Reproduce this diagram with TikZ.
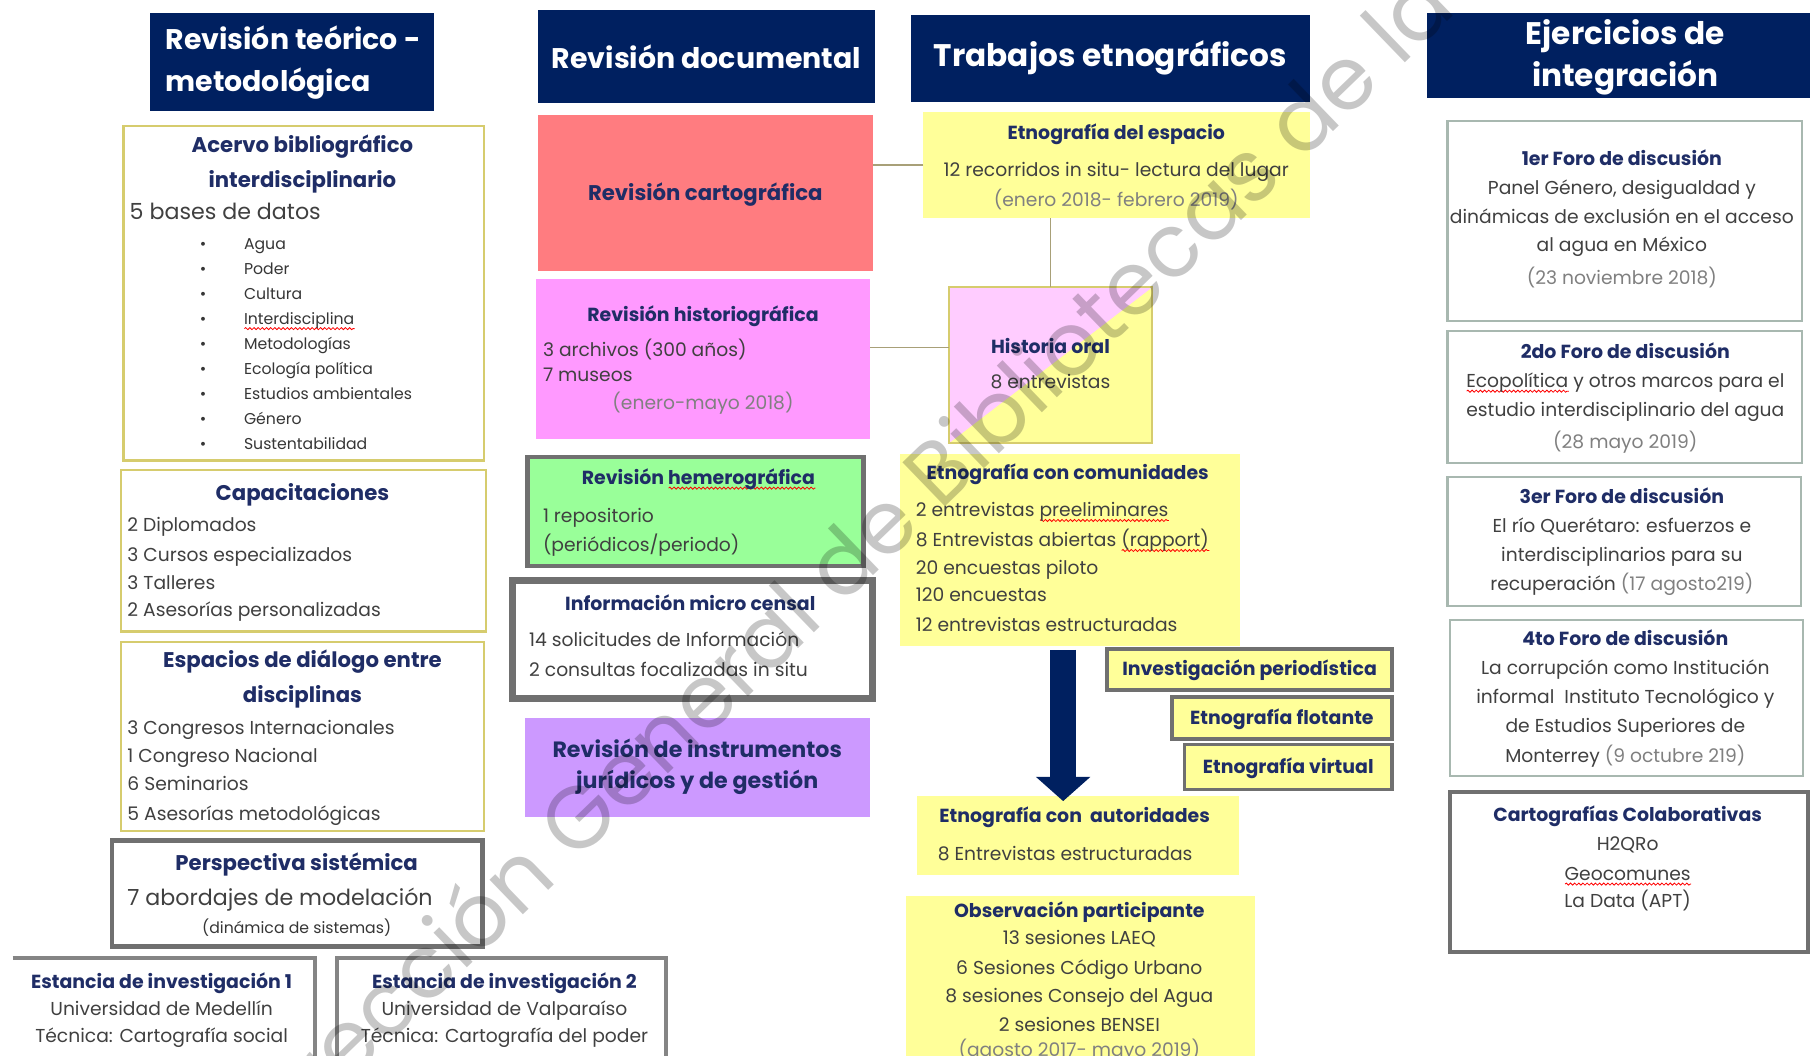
\documentclass[tikz,border=0pt]{standalone}
\usepackage{fontspec}
\setmainfont{Poppins}
\usetikzlibrary{arrows.meta,decorations.pathmorphing}

\definecolor{navy}{RGB}{0,32,96}
\definecolor{ttlblue}{RGB}{31,45,102}
\definecolor{bodygray}{RGB}{64,64,64}
\definecolor{dategray}{RGB}{128,128,128}
\definecolor{olivefr}{RGB}{214,204,110}
\definecolor{salmon}{RGB}{255,124,128}
\definecolor{pinkbox}{RGB}{255,153,255}
\definecolor{greenbox}{RGB}{153,255,153}
\definecolor{lavbox}{RGB}{204,153,255}
\definecolor{yelbox}{RGB}{255,255,153}
\definecolor{histpink}{RGB}{255,204,255}
\definecolor{frgray}{RGB}{112,112,112}
\definecolor{forogray}{RGB}{168,184,176}
\definecolor{connol}{RGB}{168,160,120}

% box from (x1,y1) to (x2,y2), y measured downwards
\newcommand\bx[6]{\node[#6,anchor=north west,inner sep=0pt,outer sep=0pt,
  minimum width={(#4-#2)*0.5pt},minimum height={(#5-#3)*0.5pt}] (#1) at (#2,#3) {};}
% spelling squiggle under a word
\newsavebox\sqbox
\newcommand\sq[1]{\sbox\sqbox{#1}\rlap{\tikz[baseline=0pt,x=1pt,y=1pt]\draw[red,line width=0.35pt,
  decorate,decoration={snake,amplitude=0.45pt,segment length=1.8pt}] (0,-1.7) -- (\wd\sqbox,-1.7);}\usebox\sqbox}

\begin{document}
\begin{tikzpicture}[x=0.5pt,y=-0.5pt,
  hdrbox/.style={fill=navy,draw=none},
  olbox/.style={draw=olivefr,line width=1pt,fill=white},
  forobox/.style={draw=forogray,line width=1pt,fill=white},
  grbox/.style={draw=frgray,line width=1.6pt},
  hd/.style={font=\bfseries\fontsize{12.3}{14}\selectfont,text=white,inner sep=0pt},
  hdl/.style={hd,font=\bfseries\fontsize{13.5}{15}\selectfont},
  tt/.style={font=\bfseries\fontsize{8.2}{9}\selectfont,text=ttlblue,anchor=mid,inner sep=0pt},
  ttb/.style={font=\bfseries\fontsize{9.2}{10}\selectfont,text=ttlblue,anchor=mid,inner sep=0pt},
  bd/.style={font=\fontsize{8.1}{9}\selectfont,text=bodygray,anchor=mid west,inner sep=0pt},
  bdc/.style={font=\fontsize{8.1}{9}\selectfont,text=bodygray,anchor=mid,inner sep=0pt},
  dt/.style={font=\fontsize{8.1}{9}\selectfont,text=dategray,anchor=mid,inner sep=0pt},
  big/.style={font=\fontsize{9.6}{11}\selectfont,text=bodygray,anchor=mid west,inner sep=0pt},
  sm/.style={font=\fontsize{6.8}{8}\selectfont,text=bodygray!85!black,inner sep=0pt},
  conn/.style={draw=connol,line width=0.8pt},
  stamp/.style={rotate=44,inner sep=0pt,text=black,text opacity=0.22,font=\fontsize{38}{42}\selectfont},
]
\useasboundingbox (0,0) rectangle (1568,914);
\clip (0,0) rectangle (1568,914);

% ---------- column 1: theory and method ----------
\bx{h1}{130}{11}{376}{96}{hdrbox}
\node[hd,anchor=mid west] (h1a) at (143,37) {Revisión teórico -};
\node[hd,anchor=mid west] (h1b) at (143,74) {metodológica};

\bx{acervo}{107}{109}{419}{399}{olbox}
\node[ttb] (ac1) at (262,127) {Acervo bibliográfico};
\node[ttb] (ac2) at (262,157) {interdisciplinario};
\node[big] (ac3) at (112,185) {5 bases de datos};
\foreach \t [count=\i] in {Agua,Poder,Cultura,\sq{Interdisciplina},Metodologías,Ecología política,Estudios ambientales,Género,Sustentabilidad}{
  \pgfmathsetmacro\yy{211+(\i-1)*21.6}
  \node[sm,anchor=mid] (bu\i) at (176,\yy) {\textbullet};
  \node[sm,anchor=mid west] (it\i) at (211,\yy) {\t};
}

\bx{capac}{105}{407}{421}{547}{olbox}
\node[ttb] (ca0) at (262,428) {Capacitaciones};
\node[bd] (ca1) at (110,455) {2 Diplomados};
\node[bd] (ca2) at (110,481) {3 Cursos especializados};
\node[bd] (ca3) at (110,505) {3 Talleres};
\node[bd] (ca4) at (110,529) {2 Asesorías personalizadas};

\bx{espac}{105}{556}{419}{720}{olbox}
\node[ttb] (es1) at (262,573) {Espacios de diálogo entre};
\node[ttb] (es2) at (262,603) {disciplinas};
\node[bd] (es3) at (110,631) {3 Congresos Internacionales};
\node[bd] (es4) at (110,655) {1 Congreso Nacional};
\node[bd] (es5) at (110,679) {6 Seminarios};
\node[bd] (es6) at (110,705) {5 Asesorías metodológicas};

\bx{persp}{97}{728}{418}{820}{draw=frgray,line width=2pt,fill=white}
\node[ttb] (pe1) at (257,749) {Perspectiva sistémica};
\node[big] (pe2) at (110,779) {7 abordajes de modelación};
\node[sm,anchor=mid] (pe3) at (257,803) {(dinámica de sistemas)};

\bx{est1}{11}{830}{273}{940}{draw=none}
\draw[draw=frgray!85,line width=1.5pt] (est1.north west) -- (est1.north east) -- (est1.south east);
\node[tt] (e11) at (140,851) {Estancia de investigación 1};
\node[bdc] (e12) at (140,874) {Universidad de Medellín};
\node[bdc] (e13) at (140,898) {Técnica: Cartografía social};

\bx{est2}{292}{830}{577}{940}{draw=frgray!85,line width=1.5pt}
\node[tt] (e21) at (437,851) {Estancia de investigación 2};
\node[bdc] (e22) at (437,874) {Universidad de Valparaíso};
\node[bdc] (e23) at (437,898) {Técnica: Cartografía del poder};

% ---------- column 2: documents ----------
\bx{h2}{466}{9}{758}{89}{hdrbox}
\node[hd] (h2a) at (612,49) {Revisión documental};

\bx{cart}{466}{100}{756}{235}{fill=salmon}
\node[ttb] (cart1) at (611,168) {Revisión cartográfica};

\bx{histg}{464}{242}{754}{380}{fill=pinkbox}
\node[tt] (hg1) at (609,273) {Revisión historiográfica};
\node[bd] (hg2) at (470,303) {3 archivos (300 años)};
\node[bd] (hg3) at (470,325) {7 museos};
\node[dt] (hg4) at (609,349) {(enero-mayo 2018)};

\bx{hemer}{457}{396}{748}{490}{fill=greenbox,draw=frgray,line width=1.8pt}
\node[tt] (he1) at (605,414) {Revisión \sq{hemerográfica}};
\node[bd] (he2) at (470,447) {1 repositorio};
\node[bd] (he3) at (470,472) {(periódicos/periodo)};

\bx{micro}{444}{503}{756}{605}{fill=white,draw=frgray,line width=3pt}
\node[tt] (mi1) at (598,523) {Información micro censal};
\node[bd] (mi2) at (458,555) {14 solicitudes de Información};
\node[bd] (mi3) at (458,581) {2 consultas focalizadas in situ};

\bx{instr}{455}{622}{754}{708}{fill=lavbox}
\node[ttb,font=\bfseries\fontsize{9.6}{11}\selectfont] (in1) at (604,651) {Revisión de instrumentos};
\node[ttb,font=\bfseries\fontsize{9.6}{11}\selectfont] (in2) at (604,678) {jurídicos y de gestión};

% ---------- column 3: ethnography ----------
\bx{h3}{789}{13}{1135}{88}{hdrbox}
\node[hdl] (h3a) at (962,50) {Trabajos etnográficos};

\bx{espacio}{800}{97}{1135}{189}{fill=yelbox}
\node[tt] (ep1) at (967,115) {Etnografía del espacio};
\node[bdc] (ep2) at (967,147) {12 recorridos in situ- lectura del lugar};
\node[dt] (ep3) at (967,173) {(enero 2018- febrero 2019)};

\bx{hist}{822}{249}{998}{384}{fill=yelbox}
\fill[histpink] (hist.south west) -- (hist.north west) -- (hist.north east) -- cycle;
\draw[olivefr,line width=0.9pt] (hist.south west) rectangle (hist.north east);
\node[tt] (ho1) at (910,301) {Historia oral};
\node[bdc] (ho2) at (910,331) {8 entrevistas};

\bx{comun}{780}{393}{1074}{560}{fill=yelbox}
\node[tt] (co0) at (925,410) {Etnografía con comunidades};
\node[bd] (co1) at (793,442) {2 entrevistas \sq{preeliminares}};
\node[bd] (co2) at (793,468) {8 Entrevistas abiertas \sq{(rapport)}};
\node[bd] (co3) at (793,492) {20 encuestas piloto};
\node[bd] (co4) at (793,516) {120 encuestas};
\node[bd] (co5) at (793,542) {12 entrevistas estructuradas};

\bx{perio}{959}{562}{1206}{598}{fill=yelbox,grbox}
\node[tt] (pr1) at (perio.center) {Investigación periodística};
\bx{flot}{1015}{604}{1206}{640}{fill=yelbox,grbox}
\node[tt] (fl1) at (flot.center) {Etnografía flotante};
\bx{virt}{1026}{645}{1206}{684}{fill=yelbox,grbox}
\node[tt] (vi1) at (virt.center) {Etnografía virtual};

\bx{auto}{794}{690}{1073}{758}{fill=yelbox}
\node[tt] (au1) at (931,707) {Etnografía con\ \ autoridades};
\node[bd] (au2) at (812,740) {8 Entrevistas estructuradas};

\bx{obser}{785}{776}{1087}{940}{fill=yelbox}
\node[tt] (ob0) at (935,789) {Observación participante};
\node[bdc] (ob1) at (935,813) {13 sesiones LAEQ};
\node[bdc] (ob2) at (935,839) {6 Sesiones Código Urbano};
\node[bdc] (ob3) at (935,863) {8 sesiones Consejo del Agua};
\node[bdc] (ob4) at (935,888) {2 sesiones BENSEI};
\node[dt] (ob5) at (935,910) {(agosto 2017- mayo 2019)};

% connectors
\draw[conn] (espacio.west) -- (espacio.west -| cart.east);
\draw[conn] (hist.north |- espacio.south) -- (hist.north);
\draw[conn] (histg.east |- 0,301) -- (hist.west |- 0,301);
\coordinate (arrtop) at (921,563);
\coordinate (arrbot) at (921,694);
\draw[navy,line width=11pt,-{Triangle[width=23pt,length=10.5pt]}] (arrtop) -- (arrbot);

% ---------- column 4: integration ----------
\bx{h4}{1236}{11}{1575}{85}{hdrbox}
\node[hdl] (h4a) at (1408,31) {Ejercicios de};
\node[hdl] (h4b) at (1408,67) {integración};

\bx{foro1}{1254}{105}{1561}{278}{forobox}
\node[tt] (f10) at (1405,138) {1er Foro de discusión};
\node[bdc] (f11) at (1405,163) {Panel Género, desigualdad y};
\node[bdc] (f12) at (1405,188) {dinámicas de exclusión en el acceso};
\node[bdc] (f13) at (1405,212) {al agua en México};
\node[dt] (f14) at (1405,241) {(23 noviembre 2018)};

\bx{foro2}{1254}{287}{1561}{401}{forobox}
\node[tt] (f20) at (1408,305) {2do Foro de discusión};
\node[bdc] (f21) at (1408,330) {\sq{Ecopolítica} y otros marcos para el};
\node[bdc] (f22) at (1408,355) {estudio interdisciplinario del agua};
\node[dt] (f23) at (1408,383) {(28 mayo 2019)};

\bx{foro3}{1254}{413}{1560}{525}{forobox}
\node[tt] (f30) at (1405,431) {3er Foro de discusión};
\node[bdc] (f31) at (1405,456) {El río Querétaro: esfuerzos e};
\node[bdc] (f32) at (1405,481) {interdisciplinarios para su};
\node[bdc] (f33) at (1405,506) {recuperación {\color{dategray}(17 agosto219)}};

\bx{foro4}{1256}{537}{1562}{672}{forobox}
\node[tt] (f40) at (1408,554) {4to Foro de discusión};
\node[bdc] (f41) at (1408,579) {La corrupción como Institución};
\node[bdc] (f42) at (1408,604) {informal\ \ Instituto Tecnológico y};
\node[bdc] (f43) at (1408,629) {de Estudios Superiores de};
\node[bdc] (f44) at (1408,655) {Monterrey {\color{dategray}(9 octubre 219)}};

\bx{colab}{1256}{686}{1566}{825}{fill=white,draw=frgray,line width=1.8pt}
\node[tt] (cc0) at (1410,706) {Cartografías Colaborativas};
\node[bdc] (cc1) at (1410,731) {H2QRo};
\node[bdc] (cc2) at (1410,757) {\sq{Geocomunes}};
\node[bdc] (cc3) at (1410,781) {La Data (APT)};

% ---------- archive stamp across the sheet ----------
\node[stamp,anchor=base west] (wm1) at (300,940) {ección General de Bibliotecas de la};
\node[stamp,anchor=base east] (wm0) at (300,940) {Dir};
\end{tikzpicture}
\end{document}
